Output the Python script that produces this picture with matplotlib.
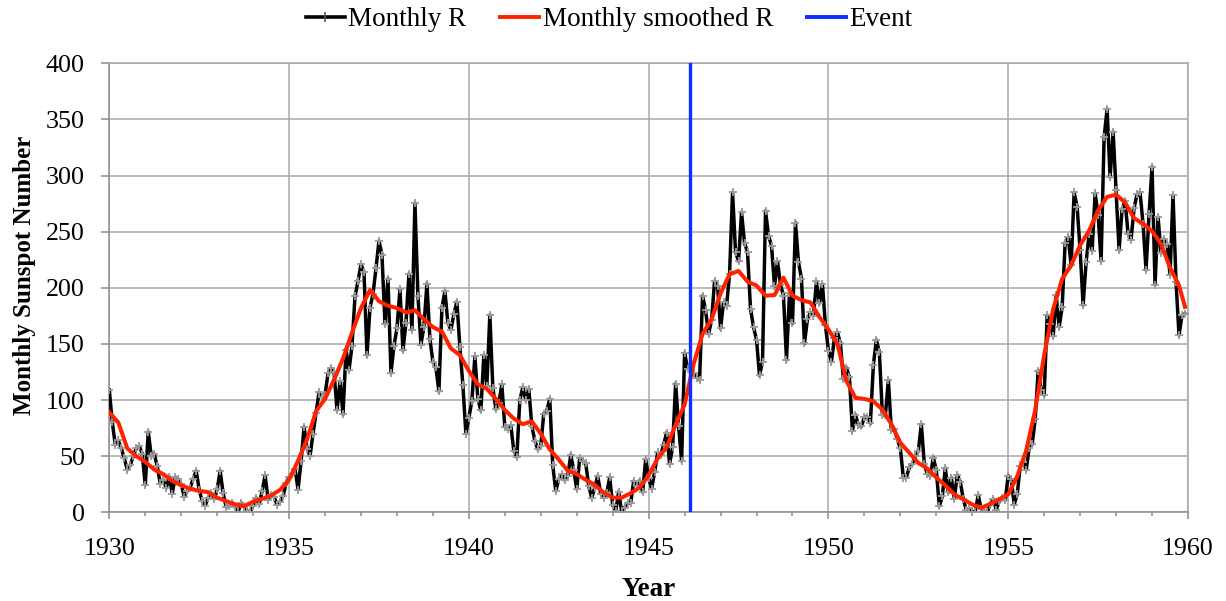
import numpy as np
import matplotlib
matplotlib.use("Agg")
import matplotlib.pyplot as plt
from matplotlib.lines import Line2D

# ---------------- data ----------------
start_year = 1930
monthly_1930s = [
    109, 80, 60, 64, 57, 48, 38, 42, 50, 57, 59, 52,                                # 1930
    24.3, 71.8, 50.0, 52.0, 41.0, 25.5, 29.0, 21.7, 31.7, 16.7, 31.2, 29.7,          # 1931
    25, 14, 19, 22, 30, 37, 20, 10, 6, 13, 17, 12,                                   # 1932
    20.5, 37.0, 16.8, 4.8, 5.3, 8.7, 4.7, 0.3, 8.5, 5.0, 1.0, 0.5,                   # 1933
    5.7, 13.0, 7.2, 18.8, 32.8, 11.2, 15.5, 13.8, 6.7, 9.5, 14.5, 25.7,              # 1934
    31.5, 34.2, 38.5, 20.3, 45.5, 76.2, 56.5, 50.2, 70.2, 88.7, 107.0, 102.5,        # 1935
    104.7, 123.9, 128.5, 124.9, 91.0, 116.7, 87.2, 145.0, 126.7, 148.4, 192.4, 205.7,  # 1936
    220.9, 214.2, 139.9, 182.2, 194.5, 217.2, 241.9, 229.5, 167.9, 208.2, 124.0, 148.0,  # 1937
    164.0, 198.7, 144.2, 168.4, 212.4, 162.5, 275.6, 192.9, 149.4, 165.2, 203.7, 154.5,  # 1938
    133.9, 129.0, 107.7, 181.9, 197.2, 168.4, 162.7, 176.4, 187.7, 146.9, 113.5, 70.2,   # 1939
]
monthly_1940s = [
    84.2, 99.0, 138.9, 101.2, 90.7, 139.9, 112.5, 175.9, 110.9, 91.7, 97.4, 113.9,   # 1940
    76.0, 74.2, 77.4, 54.7, 49.2, 99.7, 111.5, 100.0, 109.9, 77.2, 63.8, 56.2,       # 1941
    59.3, 88.0, 90.4, 101.2, 41.7, 19.0, 29.5, 33.7, 28.7, 32.0, 51.2, 37.5,         # 1942
    20.7, 48.2, 45.7, 43.5, 23.5, 12.7, 22.0, 32.3, 16.7, 13.0, 17.0, 31.3,          # 1943
    6.2, 0.8, 18.3, 0.5, 4.2, 8.3, 8.3, 27.8, 23.8, 28.2, 18.0, 47.3,                # 1944
    30.8, 21.2, 35.8, 53.3, 51.0, 60.3, 71.0, 43.2, 58.2, 114.7, 76.7, 45.7,         # 1945
    142, 128, 127, 124, 120, 118, 193, 180, 159, 171, 206, 202,                      # 1946
    163.8, 187.0, 183.8, 212.1, 285.0, 232.1, 223.6, 267.3, 239.9, 231.7, 181.2, 165.0,  # 1947
    153.6, 121.9, 134.2, 268.6, 246.4, 237.6, 201.4, 223.6, 202.9, 193.0, 135.7, 195.4,  # 1948
    168.2, 258.1, 223.0, 208.2, 150.4, 172.3, 178.1, 175.3, 205.7, 186.3, 203.2, 166.5,  # 1949
]
monthly_1950s = [
    143.9, 134.2, 155.3, 160.6, 150.4, 118.4, 128.9, 120.6, 72.6, 86.9, 77.6, 76.6,  # 1950
    84.8, 84.8, 79.2, 131.5, 153.6, 142.5, 87.1, 86.4, 117.7, 73.1, 74.2, 64.9,      # 1951
    56.9, 31.0, 31.0, 40.0, 43.0, 50.0, 54.7, 78.5, 43.0, 34.0, 32.4, 48.8,          # 1952
    37.5, 5.5, 14.2, 39.4, 17.7, 30.9, 12.2, 33.3, 27.3, 11.6, 2.3, 3.5,             # 1953
    0.3, 0.7, 15.4, 2.5, 1.1, 0.3, 6.8, 11.9, 2.1, 9.9, 13.0, 10.8,                  # 1954
    32.7, 29.5, 6.9, 16.0, 40.9, 44.9, 37.8, 57.6, 60.5, 82.8, 126.3, 108.9,         # 1955
    104.2, 175.6, 167.7, 156.8, 193.4, 165.1, 182.8, 240.2, 245.3, 219.9, 285.0, 272.0,  # 1956
    233.6, 184.4, 222.9, 248.1, 233.1, 284.2, 265.1, 223.7, 333.9, 359.4, 298.6, 339.0,  # 1957
    286.7, 233.5, 270.0, 277.5, 248.2, 242.8, 271.0, 283.5, 284.9, 257.0, 215.7, 265.6,  # 1958
    307.8, 202.6, 263.0, 231.2, 243.6, 238.9, 211.8, 282.6, 205.6, 157.7, 175.6, 177.0,  # 1959
]

# smoothed R, read every 3 months (Jan, Apr, Jul, Oct) + final value (Dec 1959)
smoothed_1930s = [89, 80, 57, 50, 45, 38, 34, 28, 24, 21, 19, 18, 13, 10, 7, 5.5,
                  9.5, 12, 15, 20, 29, 46, 65, 90, 101, 118, 137, 160, 182, 198,
                  188, 184, 182, 178, 180, 172, 165, 161, 146, 140]
smoothed_1940s = [126, 114, 110, 101, 91, 83.5, 78.5, 81, 70, 56, 47, 37, 34, 29,
                  24.5, 17.5, 13, 13, 17, 22, 33, 48, 58, 78, 96, 132, 159, 172,
                  195, 212, 215, 205.5, 202, 193, 193.5, 209, 193, 189, 187, 174]
smoothed_1950s = [163, 150, 117, 102, 101, 99, 91.5, 78.5, 62, 53, 44, 39, 31, 24,
                  16, 11.6, 7, 4, 7.5, 11.6, 16, 32, 55, 91, 140, 181, 208, 220,
                  238, 251, 269, 281, 283, 276, 262, 257, 250.5, 239, 218, 202]
smoothed_last = 183

event_year = 1946.16

series_labels = ["Monthly R", "Monthly smoothed R", "Event"]
x_label = "Year"
y_label = "Monthly Sunspot Number"

# ---------------- build ----------------
monthly = np.array(monthly_1930s + monthly_1940s + monthly_1950s, dtype=float)
mx = start_year + np.arange(len(monthly)) / 12.0

smooth = np.array(smoothed_1930s + smoothed_1940s + smoothed_1950s + [smoothed_last], dtype=float)
sx = start_year + np.arange(len(smooth) - 1) * 3 / 12.0
sx = np.append(sx, start_year + (len(monthly) - 1) / 12.0)

plt.rcParams['font.family'] = ['Liberation Serif', 'DejaVu Serif']

fig = plt.figure(figsize=(12.26, 6.01), dpi=100)
ax = fig.add_axes([109.3 / 1226, 1 - 512.3 / 601, (1188 - 109.3) / 1226, (512.3 - 63.3) / 601])

grid_c = '#a8a8a8'
axis_c = '#8c8c8c'
black_c = '#000000'
red_c = '#ff2200'
blue_c = '#0a2fff'

ax.plot(mx, monthly, color=black_c, lw=2.5, marker='+', ms=6, mec='#9a9a9a',
        mew=1.3, zorder=3, label=series_labels[0])
ax.plot(sx, smooth, color=red_c, lw=2.9, zorder=4, label=series_labels[1])
ax.axvline(event_year, color=blue_c, lw=2.4, zorder=5, label=series_labels[2])

ax.set_xlim(1930, 1960)
ax.set_ylim(0, 400)
ax.set_xticks(np.arange(1930, 1961, 5))
ax.set_xticks(np.arange(1930, 1961, 1), minor=True)
ax.set_yticks(np.arange(0, 401, 50))
ax.grid(True, which='major', color=grid_c, lw=1.1, zorder=0)
ax.set_axisbelow(True)

for side in ['left', 'bottom']:
    ax.spines[side].set_color(axis_c)
    ax.spines[side].set_linewidth(1.1)
for side in ['top', 'right']:
    ax.spines[side].set_color(grid_c)
    ax.spines[side].set_linewidth(1.1)

ax.tick_params(axis='both', which='both', direction='out', color=axis_c,
               width=1.1, labelsize=18.7)
ax.tick_params(axis='x', which='major', length=4.8, pad=14)
ax.tick_params(axis='x', which='minor', length=3.0)
ax.tick_params(axis='y', which='major', length=5.5, pad=12)

fig.text(25 / 1226, 1 - 275 / 601, y_label, rotation=90, ha='center', va='center',
         fontsize=18, fontweight='bold')
fig.text(649 / 1226, 1 - 590 / 601, x_label, ha='center', va='center',
         fontsize=19.5, fontweight='bold')

handles = [
    Line2D([0], [0], color=black_c, lw=2.6, marker='|', ms=7, mec='#555555', mew=1.2),
    Line2D([0], [0], color=red_c, lw=2.8),
    Line2D([0], [0], color=blue_c, lw=2.8),
]
fig.legend(handles, series_labels, loc='center', bbox_to_anchor=(0.4967, 1 - 20 / 601),
           ncol=3, frameon=False, fontsize=19.5, handlelength=1.45, handletextpad=0.12,
           columnspacing=1.25, numpoints=1, borderpad=0.0)

fig.savefig('out.png', dpi=100)
